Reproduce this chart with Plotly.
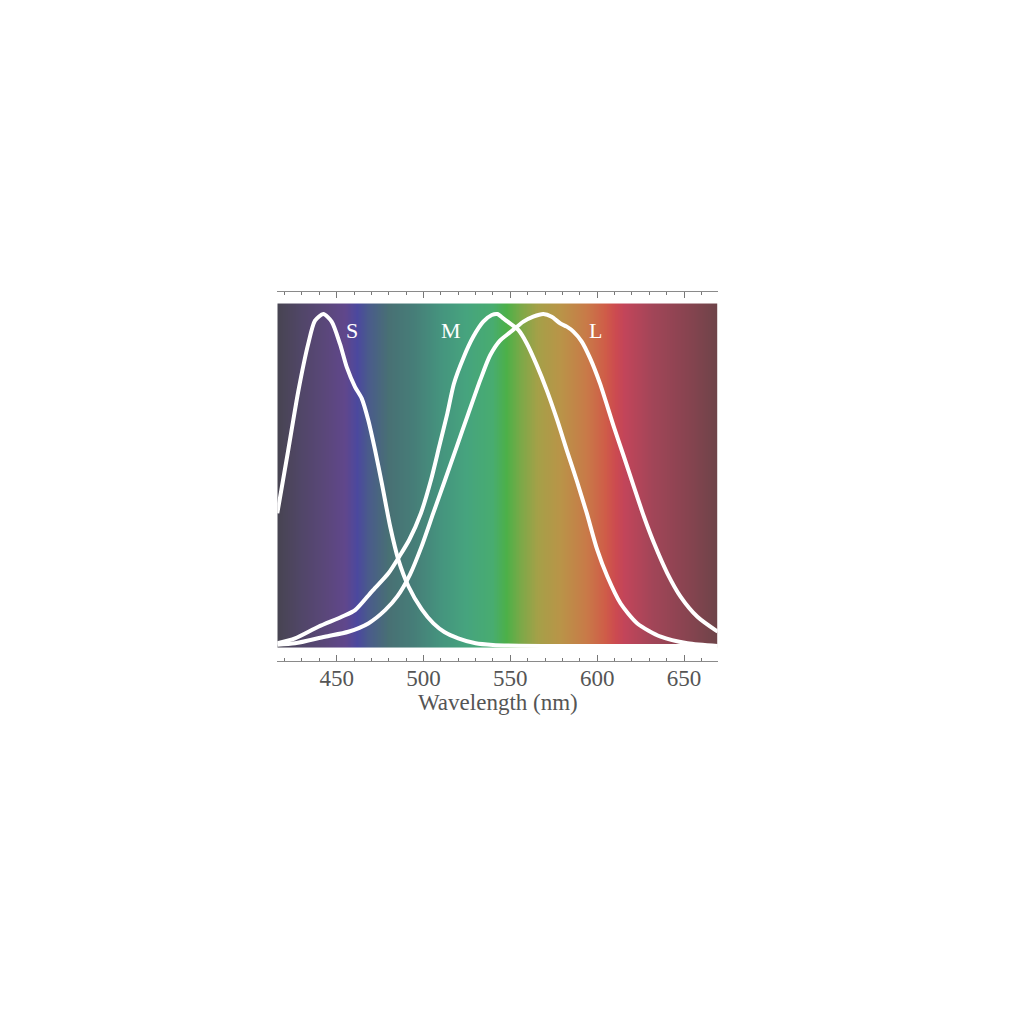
import numpy as np
import plotly.graph_objects as go

# ---------------- data ----------------
s_nm = [415.8, 422.1, 427.8, 433.6, 437.5, 442.3, 447.1, 451.9, 455.8, 460.6, 464.4, 468.2,
        472.1, 476.0, 480.8, 485.5, 491.3, 499.0, 505.7, 512.0, 520.0, 530.0, 540.0, 555.0,
        580.0, 620.0, 669.4]
s_val = [0.40, 0.59, 0.765, 0.91, 0.98, 1.0, 0.977, 0.91, 0.84, 0.78, 0.746, 0.68,
         0.59, 0.49, 0.36, 0.26, 0.18, 0.11, 0.068, 0.042, 0.023, 0.008, 0.003, 0.001,
         0.0, 0.0, 0.0]

m_nm = [415.8, 426.0, 439.4, 452.9, 460.6, 470.2, 479.8, 486.1, 491.8, 498.5, 504.3, 509.0,
        513.7, 517.5, 522.9, 528.7, 534.4, 539.3, 542.5, 545.9, 549.8, 554.6, 559.4, 565.2,
        571.0, 577.0, 582.6, 588.3, 594.0, 600.0, 605.8, 613.5, 623.1, 636.6, 652.0, 669.4]
m_val = [0.008, 0.023, 0.058, 0.088, 0.108, 0.164, 0.219, 0.27, 0.32, 0.40, 0.50, 0.60,
         0.70, 0.79, 0.867, 0.932, 0.977, 0.997, 1.0, 0.987, 0.972, 0.952, 0.912, 0.846,
         0.77, 0.68, 0.588, 0.497, 0.40, 0.29, 0.21, 0.128, 0.068, 0.028, 0.008, 0.0]

l_nm = [415.8, 426.0, 443.2, 456.7, 468.2, 477.9, 485.0, 492.2, 498.9, 505.6, 512.4, 519.1,
        525.8, 532.6, 538.3, 544.0, 547.9, 552.7, 557.5, 563.2, 569.0, 573.8, 578.6, 582.5,
        586.3, 591.1, 595.9, 601.6, 609.6, 615.4, 621.1, 626.9, 632.7, 640.4, 648.1, 657.7,
        669.4]
l_val = [0.004, 0.008, 0.028, 0.043, 0.068, 0.108, 0.15, 0.215, 0.30, 0.40, 0.50, 0.60,
         0.70, 0.80, 0.875, 0.92, 0.937, 0.957, 0.977, 0.992, 1.0, 0.992, 0.972, 0.962,
         0.947, 0.917, 0.867, 0.791, 0.66, 0.57, 0.48, 0.39, 0.31, 0.219, 0.148, 0.088,
         0.043]

curve_labels = ["S", "M", "L"]
label_nm = [458.8, 515.8, 599.3]
label_val = [0.95, 0.95, 0.95]

spec_nm = [415.8, 430, 445, 455, 462, 468, 480, 495, 510, 525, 540, 548, 556, 566, 579,
           594, 605, 611, 616, 632, 652, 669.4]
spec_colors = ["#474451", "#514668", "#5b477c", "#60478c", "#4b489e", "#4a5a8c", "#487074",
               "#467e78", "#45947e", "#46a47e", "#48ac70", "#4cb048", "#7aa948", "#a5a048",
               "#b99448", "#c87a48", "#cf5c48", "#cc4a50", "#c2455a", "#a24558", "#884450",
               "#6e4449"]

tick_vals = [450, 500, 550, 600, 650]
tick_text = ["450", "500", "550", "600", "650"]
x_title = "Wavelength (nm)"

# ---------------- figure ----------------
x_range = [415.8, 669.4]
y_range = [-0.0443, 1.0663]
grad_y = [-0.004, 1.0316]

lo, hi = spec_nm[0], spec_nm[-1]
cscale = [[(v - lo) / (hi - lo), c] for v, c in zip(spec_nm, spec_colors)]
edges = np.linspace(lo, hi, 601)
centers = 0.5 * (edges[:-1] + edges[1:])

fig = go.Figure()
fig.add_trace(go.Heatmap(x=edges, y=grad_y, z=[centers], colorscale=cscale,
                         zmin=lo, zmax=hi, showscale=False, hoverinfo="skip"))

for xs, ys in [(s_nm, s_val), (m_nm, m_val), (l_nm, l_val)]:
    fig.add_trace(go.Scatter(x=xs, y=ys, mode="lines",
                             line=dict(color="white", width=4, shape="spline", smoothing=0.7),
                             hoverinfo="skip", showlegend=False))

# dummy trace for top axis
fig.add_trace(go.Scatter(x=[x_range[0]], y=[0], xaxis="x2", mode="markers",
                         marker=dict(opacity=0), showlegend=False, hoverinfo="skip"))

for t, xv, yv in zip(curve_labels, label_nm, label_val):
    fig.add_annotation(x=xv, y=yv, text=t, showarrow=False,
                       font=dict(family="Liberation Serif", size=22, color="white"))

fig.add_annotation(x=0.5 * (277.3 + 717.7) / 1024, y=1 - 702 / 1024, xref="paper", yref="paper",
                   xanchor="center", yanchor="middle",
                   text=x_title, showarrow=False,
                   font=dict(family="Liberation Serif", size=23, color="#555555"))

dom_x = [277.3 / 1024, 717.7 / 1024]
axis_common = dict(range=x_range, showgrid=False, zeroline=False, showline=True,
                   linecolor="#8a8a8a", linewidth=1, ticks="inside", ticklen=6,
                   tickcolor="#777777", tickwidth=1, tickvals=tick_vals,
                   minor=dict(dtick=10, tick0=0, ticks="inside", ticklen=3,
                              tickcolor="#777777", tickwidth=1),
                   domain=dom_x)

fig.update_layout(
    width=1024, height=1024,
    margin=dict(l=0, r=0, t=0, b=0),
    paper_bgcolor="white", plot_bgcolor="white",
    showlegend=False,
    xaxis=dict(**axis_common, ticktext=tick_text, tickmode="array",
               ticklabelstandoff=-3,
               tickfont=dict(family="Liberation Serif", size=23, color="#555555")),
    xaxis2=dict(**axis_common, overlaying="x", side="top", showticklabels=False,
                tickmode="array"),
    yaxis=dict(range=y_range, visible=False, domain=[1 - 660.7 / 1024, 1 - 292 / 1024]),
)

fig.write_html("out.html")
